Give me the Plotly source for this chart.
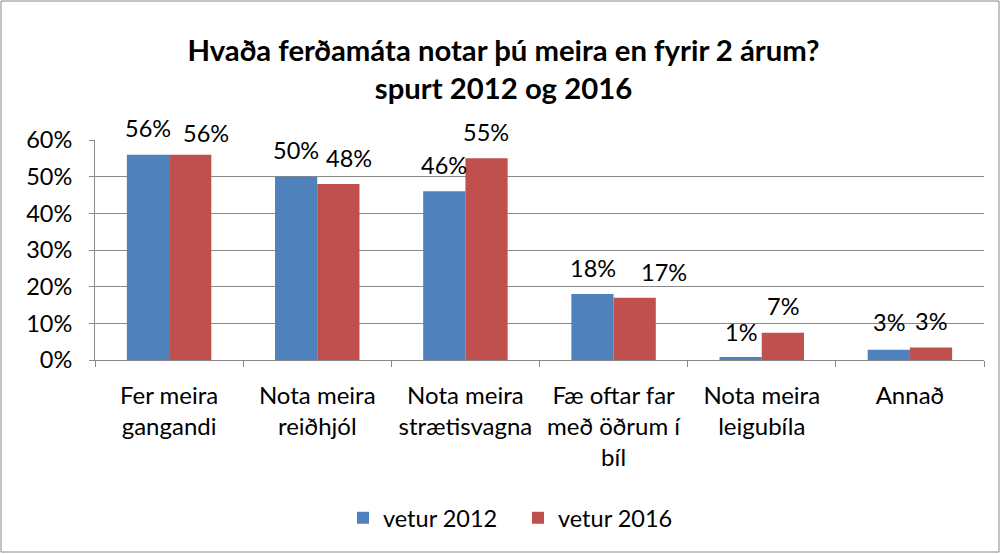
import plotly.graph_objects as go

categories = ["Fer meira<br>gangandi", "Nota meira<br>reiðhjól", "Nota meira<br>strætisvagna",
              "Fæ oftar far<br>með öðrum í<br>bíl", "Nota meira<br>leigubíla", "Annað"]
series_names = ["vetur 2012", "vetur 2016"]
values_2012 = [0.56, 0.50, 0.46, 0.18, 0.008, 0.028]
values_2016 = [0.56, 0.48, 0.55, 0.17, 0.074, 0.034]
y_ticks = [0, 0.1, 0.2, 0.3, 0.4, 0.5, 0.6]
y_tick_labels = ["0%", "10%", "20%", "30%", "40%", "50%", "60%"]

# label placement tweaks (pixels), mimicking the original's overlap avoidance
label_dx_2016 = [16, 11, 0, 29, 0, 0]
label_dy_2016 = [22, 26, 26, 26, 27, 27]
label_dy_2012 = [27, 27, 26, 26, 25, 28]

colors = ["#4F81BD", "#C0504D"]
FONT = "Lato, Open Sans, sans-serif"

fig = go.Figure()
for name, vals, col in zip(series_names, [values_2012, values_2016], colors):
    fig.add_trace(go.Bar(x=categories, y=vals, name=name, marker=dict(color=col, line=dict(width=0))))

annotations = []
for vals, base, dxs, dys in [(values_2012, -21, [0] * 6, label_dy_2012),
                             (values_2016, 21, label_dx_2016, label_dy_2016)]:
    for c, v, dx, dy in zip(categories, vals, dxs, dys):
        annotations.append(dict(x=c, y=v, xref="x", yref="y", text=f"{round(v*100):.0f}%",
                                showarrow=False, xshift=base + dx, yshift=dy, yanchor="middle",
                                font=dict(family=FONT, size=23.5, color="#000000")))

L, R, T, B = 95, 17, 140, 194
W, H = 1001, 554
pw, ph = W - L - R, H - T - B
def px_x(p):
    return (p - L) / pw
def px_y(p):
    return (H - B - p) / ph

fig.update_layout(
    width=W, height=H,
    margin=dict(l=L, r=R, t=T, b=B),
    paper_bgcolor="white", plot_bgcolor="white",
    barmode="group", bargap=0.43, bargroupgap=0,
    title=dict(text="<b>Hvaða ferðamáta notar þú meira en fyrir 2 árum?<br>spurt 2012 og 2016</b>",
               x=0.503, xanchor="center", y=1 - 61 / H, yanchor="middle",
               font=dict(family=FONT, size=29.3, color="#000000")),
    legend=dict(orientation="h", x=px_x(518), xanchor="center", y=px_y(518), yanchor="middle",
                font=dict(family=FONT, size=23.5, color="#000000"), traceorder="normal",
                entrywidth=130, entrywidthmode="pixels"),
    annotations=annotations,
    shapes=[dict(type="rect", xref="paper", yref="paper", x0=px_x(1), x1=px_x(999),
                 y0=px_y(552), y1=px_y(1), line=dict(color="#898989", width=1), layer="below")],
    font=dict(family=FONT, color="#000000"),
)
fig.update_yaxes(range=[0, 0.6], tickvals=y_ticks, ticktext=y_tick_labels,
                 showgrid=True, gridcolor="#898989", gridwidth=1,
                 showline=True, linecolor="#898989", linewidth=1,
                 ticks="outside", ticklen=5, tickcolor="#898989", ticklabelstandoff=12,
                 tickfont=dict(family=FONT, size=23.5, color="#000000"), zeroline=False)
fig.update_xaxes(showline=True, linecolor="#898989", linewidth=1,
                 ticks="outside", ticklen=6, tickcolor="#898989", tickson="boundaries",
                 ticklabelstandoff=14,
                 tickfont=dict(family=FONT, size=24, color="#000000"))

fig.write_html("out.html", config={"displayModeBar": False},
               post_script="document.body.style.margin='0';")
